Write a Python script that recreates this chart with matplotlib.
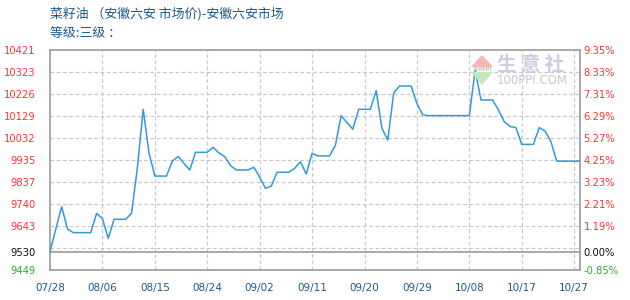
import matplotlib
matplotlib.use("Agg")
import matplotlib.pyplot as plt
from matplotlib.patches import Polygon
import numpy as np

# ---- data ----
days = list(range(92))  # day index from 07/28
prices = [
    9530, 9630, 9729, 9630, 9614, 9614, 9614, 9614, 9699, 9677,
    9589, 9673, 9673, 9673, 9700, 9900, 10159, 9965, 9864, 9864,
    9864, 9930, 9951, 9920, 9891, 9969, 9969, 9969, 9991, 9966,
    9950, 9910, 9891, 9891, 9891, 9903, 9859, 9810, 9820, 9881,
    9881, 9881, 9898, 9927, 9873, 9965, 9953, 9953, 9953, 10000,
    10131, 10100, 10071, 10159, 10159, 10159, 10241, 10075, 10023, 10230,
    10262, 10262, 10262, 10185, 10134, 10131, 10131, 10131, 10131, 10131,
    10131, 10131, 10131, 10333, 10200, 10200, 10200, 10156, 10104, 10083,
    10078, 10004, 10004, 10004, 10078, 10063, 10016, 9930, 9930, 9930,
    9930, 9930,
]
x_tick_days = [0, 9, 18, 27, 36, 45, 54, 63, 72, 81, 90]
x_tick_labels = ["07/28", "08/06", "08/15", "08/24", "09/02", "09/11",
                 "09/20", "09/29", "10/08", "10/17", "10/27"]
y_min, y_max, base = 9449, 10421, 9530
left_labels = ["10421", "10323", "10226", "10129", "10032", "9935",
               "9837", "9740", "9643"]
right_labels = ["9.35%", "8.33%", "7.31%", "6.29%", "5.27%", "4.25%",
                "3.23%", "2.21%", "1.19%"]
title1 = "菜籽油 （安徽六安 市场价)-安徽六安市场"
title2 = "等级:三级 ："

plt.rcParams['font.family'] = ['DejaVu Sans']
cjk = ['Noto Sans CJK SC', 'DejaVu Sans']

W, H = 630, 300
fig = plt.figure(figsize=(W / 100, H / 100), dpi=100)
ax = fig.add_axes([50 / W, 30 / H, 530 / W, 220 / H])
ax.set_xlim(0, 91)
ax.set_ylim(y_min, y_max)

levels = np.linspace(y_min, y_max, 11)
grid_levels = levels[1:-1]
for g in grid_levels:
    ax.axhline(g, color='#c8c8c8', lw=0.9, ls=(0, (3, 2)), zorder=1)
for d in x_tick_days[1:]:
    ax.axvline(d, color='#c8c8c8', lw=0.9, ls=(0, (3, 2)), zorder=1)
ax.axhline(base, color='#999999', lw=1.2, zorder=2)

# watermark
def px(x, y):
    return (x / W, 1 - y / H)
fig.patches.append(Polygon([px(471, 67), px(482, 55), px(493, 67)], closed=True,
                           transform=fig.transFigure, facecolor='#f4b7b4',
                           edgecolor='none', zorder=0))
fig.patches.append(Polygon([px(471, 72), px(493, 72), px(482, 85)], closed=True,
                           transform=fig.transFigure, facecolor='#bfe8bf',
                           edgecolor='none', zorder=0))
fig.text(482 / W, 1 - 69.5 / H, "100PPI", fontsize=3.5, color='#c0c0c0',
         ha='center', va='center', fontweight='bold')
fig.text(531 / W, 1 - 65 / H, "生 意 社", fontsize=14, color='#c9cfe0',
         ha='center', va='center', family=cjk, fontweight='bold')
fig.text(532 / W, 1 - 81 / H, "100PPI.COM", fontsize=8.5, color='#c8c8c8',
         ha='center', va='center')

ax.plot(days, prices, color='#3399dd', lw=1.1, zorder=3)

for s in ax.spines.values():
    s.set_color('#999999')
    s.set_linewidth(1.2)

fs = 7.2
ax.set_xticks(x_tick_days)
ax.set_xticklabels(x_tick_labels, fontsize=fs + 0.3, color='#1f5a8a')
ax.tick_params(axis='x', length=0, pad=9)

ypos = list(levels[::-1][:9]) + [base, y_min]
ax.set_yticks(ypos)
ax.set_yticklabels(left_labels + [str(base), str(y_min)], fontsize=fs)
ax.tick_params(axis='y', length=0, pad=10.5)
cols = ['#ff3333'] * 9 + ['#111111', '#33aa33']
for t, c in zip(ax.get_yticklabels(), cols):
    t.set_color(c)

ax2 = ax.twinx()
ax2.set_ylim(y_min, y_max)
ax2.set_yticks(ypos)
ax2.set_yticklabels(right_labels + ["0.00%", "-0.85%"], fontsize=fs)
ax2.tick_params(axis='y', length=0, pad=2.5)
for t, c in zip(ax2.get_yticklabels(), cols):
    t.set_color(c)
for s in ax2.spines.values():
    s.set_visible(False)

fig.text(50 / W, 1 - 14 / H, title1, fontsize=9.3, color='#1a5a8a',
         ha='left', va='center', family=cjk)
fig.text(50 / W, 1 - 34 / H, title2, fontsize=9.3, color='#1a5a8a',
         ha='left', va='center', family=cjk)

fig.savefig("out.png", dpi=100)
